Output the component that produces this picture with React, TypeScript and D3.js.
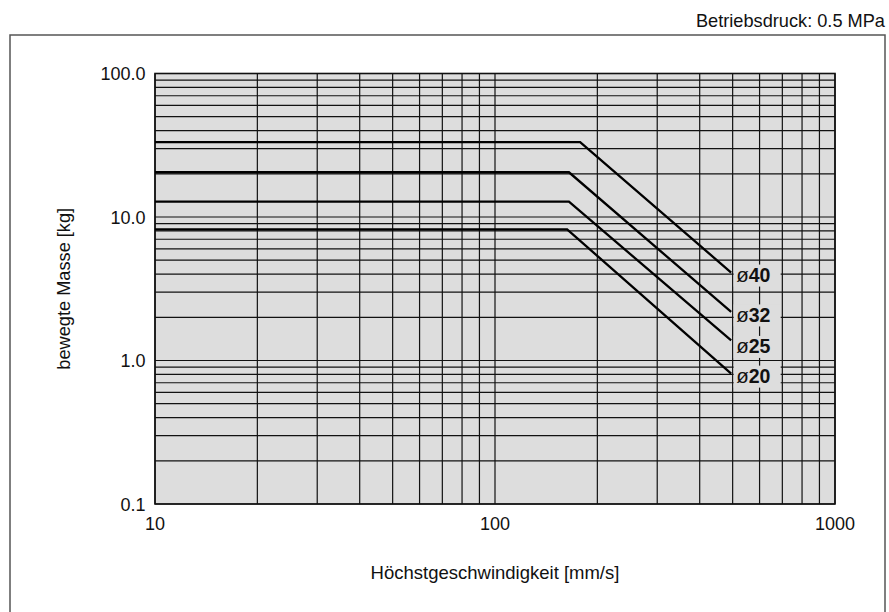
import * as d3 from "d3";
import { useEffect } from "react";

// Werte
const xTickLabels = [10, 100, 1000];
const yTickLabels = ["0.1", "1.0", "10.0", "100.0"];
const yTickValues = [0.1, 1, 10, 100];

const seriesNames = ["ø40", "ø32", "ø25", "ø20"];
// Geschwindigkeit [mm/s]
const speedPoints = [
  [10, 178, 495],
  [10, 165, 495],
  [10, 165, 495],
  [10, 163, 495],
];
// bewegte Masse [kg]
const massPoints = [
  [33.3, 33.3, 4.1],
  [20.5, 20.5, 2.18],
  [12.8, 12.8, 1.38],
  [8.2, 8.2, 0.81],
];

const FONT = "'Liberation Sans', Arial, Helvetica, sans-serif";
const BG = "#dddddd";

export default function App() {
  useEffect(() => {
    document.body.style.margin = "0";
  }, []);

  const width = 889;
  const height = 612;
  const left = 155;
  const right = 835;
  const top = 73.5;
  const bottom = 504;

  const x = d3.scaleLog().domain([10, 1000]).range([left, right]);
  const y = d3.scaleLog().domain([0.1, 100]).range([bottom, top]);

  // Gitter: 1..9 pro Dekade
  const xGrid: number[] = [];
  [10, 100].forEach((d) => {
    for (let k = 1; k <= 9; k++) xGrid.push(k * d);
  });
  xGrid.push(1000);
  const yGrid: number[] = [];
  [0.1, 1, 10].forEach((d) => {
    for (let k = 1; k <= 9; k++) yGrid.push(k * d);
  });
  yGrid.push(100);

  const line = d3
    .line<[number, number]>()
    .x((d) => x(d[0]))
    .y((d) => y(d[1]));

  // kleine Verschiebung der Beschriftung, damit sie sich nicht überlappen
  const labelNudge = [3, 3.5, 6.5, 3];

  return (
    <svg
      width={width}
      height={height}
      style={{ position: "absolute", left: 0, top: 0, background: "#fff" }}
      fontFamily={FONT}
    >
      {/* Rahmen */}
      <rect x={10} y={35} width={875} height={620} fill="none" stroke="#555" strokeWidth={1.5} />
      <text x={885} y={27} textAnchor="end" fontSize={18.2} fill="#111">
        Betriebsdruck: 0.5 MPa
      </text>

      <rect x={left} y={top} width={right - left} height={bottom - top} fill={BG} />

      <g stroke="#111" strokeWidth={1.2}>
        {xGrid.map((v) => (
          <line key={"x" + v} x1={x(v)} x2={x(v)} y1={top} y2={bottom} />
        ))}
        {yGrid.map((v) => (
          <line key={"y" + v} x1={left} x2={right} y1={y(v)} y2={y(v)} />
        ))}
      </g>
      <rect
        x={left}
        y={top}
        width={right - left}
        height={bottom - top}
        fill="none"
        stroke="#111"
        strokeWidth={1.6}
      />

      {/* Kennlinien */}
      <g fill="none" stroke="#000" strokeWidth={2.3} strokeLinejoin="miter">
        {seriesNames.map((name, i) => {
          const pts = speedPoints[i].map((s, j) => [s, massPoints[i][j]] as [number, number]);
          return <path key={name} d={line(pts) || ""} />;
        })}
      </g>

      {/* Beschriftung ø */}
      {seriesNames.map((name, i) => {
        const endV = speedPoints[i][speedPoints[i].length - 1];
        const endM = massPoints[i][massPoints[i].length - 1];
        const cx = x(endV);
        const cy = y(endM) + labelNudge[i];
        return (
          <g key={"l" + name}>
            <rect x={cx + 2.5} y={cy - 11} width={47} height={22} fill={BG} />
            <text x={cx + 5} y={cy + 6.5} fill="#111">
              <tspan fontWeight="normal" fontSize={20.5}>{name.slice(0, 1)}</tspan>
              <tspan fontWeight="bold" fontSize={19.5}>{name.slice(1)}</tspan>
            </text>
          </g>
        );
      })}

      {/* Achsenbeschriftung */}
      {xTickLabels.map((v) => (
        <text key={"xt" + v} x={x(v)} y={530} textAnchor="middle" fontSize={18} fill="#111">
          {v}
        </text>
      ))}
      {yTickValues.map((v, i) => (
        <text key={"yt" + v} x={145.5} y={y(v) + 6.5} textAnchor="end" fontSize={18} fill="#111">
          {yTickLabels[i]}
        </text>
      ))}
      <text x={(left + right) / 2} y={579} textAnchor="middle" fontSize={18.5} fill="#111">
        Höchstgeschwindigkeit [mm/s]
      </text>
      <text
        transform={`translate(70,${(top + bottom) / 2}) rotate(-90)`}
        textAnchor="middle"
        fontSize={18.2}
        fill="#111"
      >
        bewegte Masse [kg]
      </text>
    </svg>
  );
}
